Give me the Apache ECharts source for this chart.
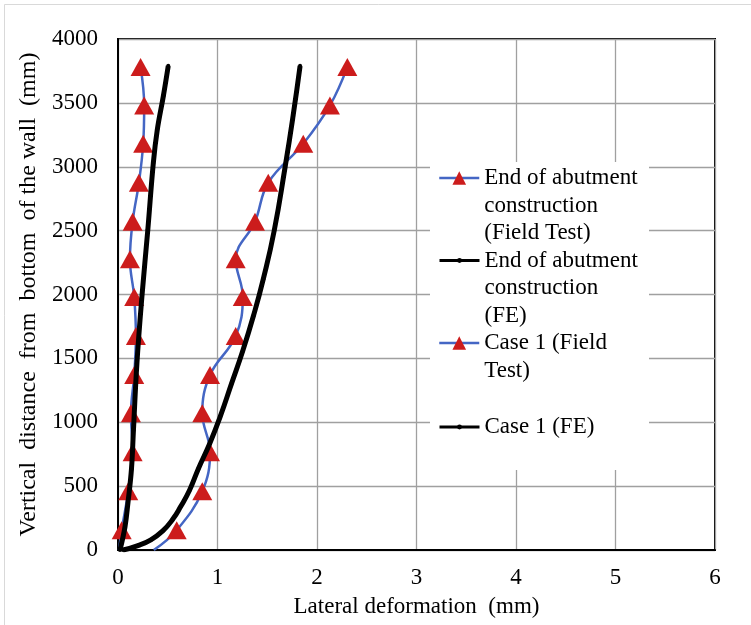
<!DOCTYPE html>
<html>
<head>
<meta charset="utf-8">
<script src="https://cdn.jsdelivr.net/npm/echarts@6/dist/echarts.min.js"></script>
<style>
html,body{margin:0;padding:0;background:#fff;}
#chart{width:751px;height:625px;}
</style>
</head>
<body>
<div id="chart"></div>
<script>
// ---- data ----
const seriesNames = [
  'End of abutment construction (Field Test)',
  'End of abutment construction (FE)',
  'Case 1 (Field Test)',
  'Case 1 (FE)'
];
const legendTexts = [
  ['End of abutment', 'construction', '(Field Test)'],
  ['End of abutment', 'construction', '(FE)'],
  ['Case 1 (Field', 'Test)'],
  ['Case 1 (FE)']
];
const xTicks = [0, 1, 2, 3, 4, 5, 6];
const yTicks = [0, 500, 1000, 1500, 2000, 2500, 3000, 3500, 4000];

// field test (vertical distance in mm, lateral deformation in mm)
const fieldDepths = [0, 155, 460, 765, 1070, 1370, 1675, 1980, 2275, 2570, 2875, 3180, 3480, 3780];
const endAbutFT = [0.01, 0.037, 0.103, 0.147, 0.13, 0.163, 0.18, 0.163, 0.12, 0.147, 0.21, 0.253, 0.263, 0.227];
const case1FT = [0.36, 0.59, 0.847, 0.925, 0.847, 0.925, 1.183, 1.254, 1.183, 1.377, 1.51, 1.862, 2.13, 2.305];

// FE
const endAbutFEDepth = [0, 180, 370, 630, 935, 1460, 1980, 2510, 3030, 3290, 3550, 3790];
const endAbutFE = [0.02, 0.07, 0.10, 0.135, 0.155, 0.19, 0.24, 0.30, 0.355, 0.395, 0.455, 0.505];
const case1FEDepth = [0, 35, 80, 150, 240, 340, 470, 640, 830, 1050, 1300, 1550, 1830, 2120, 2500, 3000, 3400, 3790];
const case1FE = [0.05, 0.2, 0.33, 0.45, 0.55, 0.63, 0.72, 0.81, 0.92, 1.03, 1.14, 1.25, 1.36, 1.46, 1.57, 1.68, 1.76, 1.83];

// ---- build ----
const FONT = '"Liberation Serif", "Times New Roman", serif';
const FS = 23;
const LH = 27.5;
const BLUE = '#4466c4';
const RED = '#cc1c1c';

function ftData(xs) {
  return xs.map((x, i) => {
    const d = {value: [x, fieldDepths[i]]};
    if (fieldDepths[i] === 0) d.symbol = 'none';
    return d;
  });
}
function feData(xs, ys) { return xs.map((x, i) => [x, ys[i]]); }

const legendIconY = [178, 260.5, 343, 427];
const legends = seriesNames.map((nm, i) => {
  const n = legendTexts[i].length;
  const isFE = i % 2 === 1;
  const m = 2 * n - 1;
  return {
    data: [nm],
    left: 438,
    top: legendIconY[i] - m * LH / 2,
    padding: 0,
    orient: 'vertical',
    selectedMode: false,
    itemWidth: 40,
    itemHeight: isFE ? 6 : 17,
    itemGap: 0,
    lineStyle: {width: isFE ? 3 : 2.5},
    formatter: function () {
      return '\n'.repeat(n - 1) + legendTexts[i].join('\n');
    },
    textStyle: {fontFamily: FONT, fontSize: FS, color: '#000', lineHeight: LH}
  };
});

const option = {
  animation: false,
  backgroundColor: '#fff',
  textStyle: {fontFamily: FONT},
  grid: {left: 118, right: 36, top: 39, bottom: 75, show: true, borderColor: '#000', borderWidth: 2, backgroundColor: 'transparent'},
  graphic: [
    {type: 'rect', z: 0, shape: {x: 4.5, y: 4.5, width: 800, height: 700}, style: {fill: 'none', stroke: '#d9d9d9', lineWidth: 1}},
    {type: 'rect', z: 3, shape: {x: 430, y: 162, width: 219, height: 308}, style: {fill: '#fff'}}
  ],
  legend: legends,
  xAxis: {
    type: 'value', min: xTicks[0], max: xTicks[xTicks.length - 1], interval: 1,
    name: 'Lateral deformation  (mm)', nameLocation: 'middle', nameGap: 45,
    nameTextStyle: {fontFamily: FONT, fontSize: FS, color: '#000'},
    axisLine: {show: true, lineStyle: {color: '#000', width: 2}},
    axisTick: {show: false},
    axisLabel: {fontFamily: FONT, fontSize: FS, color: '#000', margin: 16},
    splitLine: {show: true, lineStyle: {color: '#a0a0a0', width: 1.3}}
  },
  yAxis: {
    type: 'value', min: yTicks[0], max: yTicks[yTicks.length - 1], interval: 500,
    name: 'Vertical  distance  from  bottom  of the wall  (mm)', nameLocation: 'middle', nameGap: 60, nameRotate: 90,
    nameTextStyle: {fontFamily: FONT, fontSize: 24, color: '#000'},
    axisLine: {show: true, lineStyle: {color: '#000', width: 2}},
    axisTick: {show: false},
    axisLabel: {fontFamily: FONT, fontSize: FS, color: '#000', margin: 20, formatter: function (v) { return String(v); }},
    splitLine: {show: true, lineStyle: {color: '#a0a0a0', width: 1.3}}
  },
  series: [
    {
      name: seriesNames[0], type: 'line', data: ftData(endAbutFT), smooth: 0.4,
      symbol: 'triangle', symbolSize: [20, 18], showSymbol: true,
      lineStyle: {color: BLUE, width: 2.5}, itemStyle: {color: RED}, z: 2
    },
    {
      name: seriesNames[2], type: 'line', data: ftData(case1FT), smooth: 0.4,
      symbol: 'triangle', symbolSize: [20, 18], showSymbol: true,
      lineStyle: {color: BLUE, width: 2.5}, itemStyle: {color: RED}, z: 2
    },
    {
      name: seriesNames[1], type: 'line', data: feData(endAbutFE, endAbutFEDepth), smooth: 0.4,
      symbol: 'circle', symbolSize: 4, showSymbol: true,
      lineStyle: {color: '#000', width: 5}, itemStyle: {color: '#000'}, z: 3
    },
    {
      name: seriesNames[3], type: 'line', data: feData(case1FE, case1FEDepth), smooth: 0.5,
      symbol: 'circle', symbolSize: 4, showSymbol: true,
      lineStyle: {color: '#000', width: 5}, itemStyle: {color: '#000'}, z: 3
    }
  ]
};

const chart = echarts.init(document.getElementById('chart'), null, {renderer: 'canvas'});
chart.setOption(option);
</script>
</body>
</html>
